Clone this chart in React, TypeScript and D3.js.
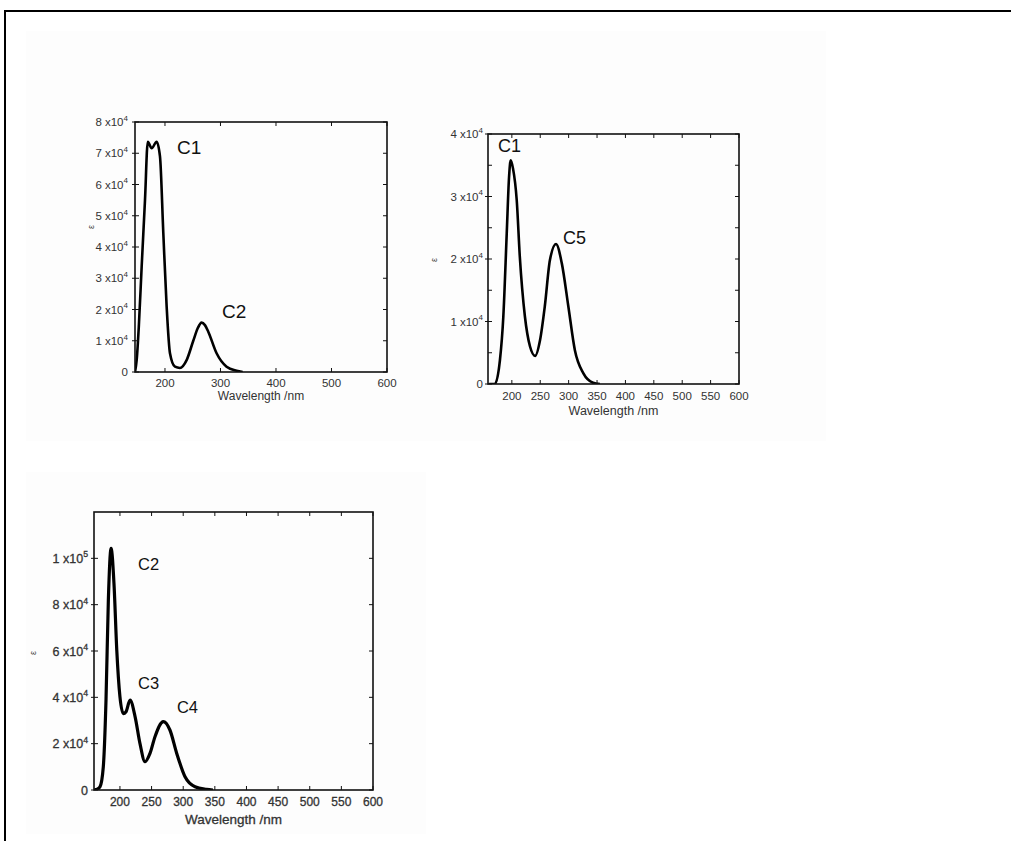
import React from 'react';
import * as d3 from 'd3';

// ---------- Data ----------
// Panel 1: peaks C1 (double) and C2
const p1Wavelength = [146, 149, 153, 158, 164, 169, 176, 185, 191, 197, 203, 209, 218, 227, 239, 251, 259, 266, 272, 278, 293, 311, 329, 340];
const p1Epsilon = [0, 3800, 15000, 33700, 55000, 73700, 71600, 73700, 69000, 44500, 21000, 6000, 1700, 1300, 3800, 10000, 14000, 15800, 15000, 12900, 6000, 1700, 400, 0];

// Panel 2: peaks C1 and C5
const p2Wavelength = [160, 170, 179, 185, 191, 195, 198, 202, 208.6, 214, 223, 232, 241, 249.6, 258, 267, 277.8, 288, 299.5, 311, 326, 343, 355];
const p2Epsilon = [0, 0, 3800, 10800, 24100, 33000, 35800, 34500, 29400, 20400, 10800, 6000, 4500, 7000, 12400, 19800, 22400, 19300, 12400, 5400, 1700, 200, 0];

// Panel 3: peaks C2, C3, C4
const p3Wavelength = [159, 164, 168.5, 173.7, 178, 181.7, 186, 190.6, 195, 200, 205.3, 209.6, 216, 224, 231.7, 239.6, 247.5, 255.4, 268.6, 279, 289.8, 302.9, 318.7, 337, 347];
const p3Epsilon = [0, 300, 1400, 10000, 39000, 82000, 104300, 89000, 60400, 40300, 33000, 33800, 38800, 31600, 20000, 12200, 15800, 23000, 29500, 25900, 15800, 5700, 1400, 300, 0];

const p1XTicks = [200, 300, 400, 500, 600];
const p1YTicks = [0, 10000, 20000, 30000, 40000, 50000, 60000, 70000, 80000];
const p2XTicks = [200, 250, 300, 350, 400, 450, 500, 550, 600];
const p2YTicks = [0, 10000, 20000, 30000, 40000];
const p2YMinor = [5000, 15000, 25000, 35000];
const p3XTicks = [200, 250, 300, 350, 400, 450, 500, 550, 600];
const p3YTicks = [0, 20000, 40000, 60000, 80000, 100000];

const p1Labels = [{ text: 'C1', wl: 221.7, eps: 72000 }, { text: 'C2', wl: 302.8, eps: 19500 }];
const p2Labels = [{ text: 'C1', wl: 175.6, eps: 38100 }, { text: 'C5', wl: 290, eps: 23400 }];
const p3Labels = [
  { text: 'C2', wl: 228.6, eps: 97500 },
  { text: 'C3', wl: 228.6, eps: 46200 },
  { text: 'C4', wl: 290, eps: 35800 },
];

const xTitle = 'Wavelength /nm';
const yTitle = 'ε';

// ---------- Panel layout ----------
type Cfg = {
  wl: number[]; eps: number[];
  x0: number; x1: number; y0: number; y1: number;
  xDomain: [number, number]; yDomain: [number, number];
  xTicks: number[]; yTicks: number[]; yMinor?: number[];
  labels: { text: string; wl: number; eps: number }[];
  labelSize: number; tickSize: number; yTickSize: number; titleSize: number;
  xTickDy: number; titleDy: number; yLabelGap: number;
  epsX: number; epsY: number; tickLen: number; weight: number; lineW: number;
};

const panels: Cfg[] = [
  {
    wl: p1Wavelength, eps: p1Epsilon,
    x0: 135, x1: 387, y0: 122, y1: 372,
    xDomain: [146, 600], yDomain: [0, 80000],
    xTicks: p1XTicks, yTicks: p1YTicks,
    labels: p1Labels, labelSize: 19, tickSize: 11.5, yTickSize: 11.5, titleSize: 12,
    xTickDy: 15, titleDy: 28, yLabelGap: 7, epsX: 91, epsY: 227, tickLen: 4, weight: 0, lineW: 2.6,
  },
  {
    wl: p2Wavelength, eps: p2Epsilon,
    x0: 488, x1: 739, y0: 134, y1: 384,
    xDomain: [158, 600], yDomain: [0, 40000],
    xTicks: p2XTicks, yTicks: p2YTicks, yMinor: p2YMinor,
    labels: p2Labels, labelSize: 18, tickSize: 11.5, yTickSize: 11.5, titleSize: 12.5,
    xTickDy: 15.5, titleDy: 31, yLabelGap: 5, epsX: 434, epsY: 260, tickLen: 4, weight: 0, lineW: 2.6,
  },
  {
    wl: p3Wavelength, eps: p3Epsilon,
    x0: 94, x1: 373, y0: 512, y1: 790,
    xDomain: [159, 600], yDomain: [0, 120000],
    xTicks: p3XTicks, yTicks: p3YTicks,
    labels: p3Labels, labelSize: 16.5, tickSize: 12, yTickSize: 12.5, titleSize: 13.5,
    xTickDy: 16, titleDy: 34, yLabelGap: 6, epsX: 33, epsY: 653, tickLen: 4, weight: 0.3, lineW: 3.2,
  },
];

const FONT = '"Liberation Sans", Arial, Helvetica, sans-serif';

function YTickLabel({ v, x, y, size, weight }: { v: number; x: number; y: number; size: number; weight: number }) {
  const stroke = weight ? '#333' : 'none';
  if (v === 0) {
    return (
      <text x={x} y={y + size * 0.36} textAnchor="end" fontSize={size} fill="#333" stroke={stroke} strokeWidth={weight}>0</text>
    );
  }
  const exp = Math.floor(Math.log10(v) + 1e-9);
  const m = Math.round(v / Math.pow(10, exp));
  return (
    <text x={x} y={y + size * 0.36} textAnchor="end" fontSize={size} fill="#333" stroke={stroke} strokeWidth={weight}>
      {`${m} x10`}
      <tspan fontSize={size * 0.7} dy={-size * 0.45}>{exp}</tspan>
    </text>
  );
}

function Panel({ c }: { c: Cfg }) {
  const x = d3.scaleLinear().domain(c.xDomain).range([c.x0, c.x1]);
  const y = d3.scaleLinear().domain(c.yDomain).range([c.y1, c.y0]);
  const pts = c.wl.map((w, i) => [w, c.eps[i]] as [number, number]);
  const line = d3.line<[number, number]>()
    .x(d => x(d[0]))
    .y(d => y(d[1]))
    .curve(d3.curveMonotoneX);
  const t = c.tickLen;
  const stroke = c.weight ? '#333' : 'none';
  return (
    <g fontFamily={FONT}>
      <defs>
        <clipPath id={`clip-${c.x0}`}>
          <rect x={c.x0} y={c.y0 - 20} width={c.x1 - c.x0} height={c.y1 - c.y0 + 20} />
        </clipPath>
      </defs>
      <path d={line(pts) || ''} fill="none" stroke="#000" strokeWidth={c.lineW} strokeLinejoin="round" clipPath={`url(#clip-${c.x0})`} />
      <rect x={c.x0} y={c.y0} width={c.x1 - c.x0} height={c.y1 - c.y0} fill="none" stroke="#111" strokeWidth={1.6} />
      {c.xTicks.map(v => (
        <g key={`xt${v}`}>
          <line x1={x(v)} x2={x(v)} y1={c.y1} y2={c.y1 - t} stroke="#111" strokeWidth={1} />
          <line x1={x(v)} x2={x(v)} y1={c.y0} y2={c.y0 + t} stroke="#111" strokeWidth={1} />
          <text x={x(v)} y={c.y1 + c.xTickDy} textAnchor="middle" fontSize={c.tickSize} fill="#333" stroke={stroke} strokeWidth={c.weight}>{v}</text>
        </g>
      ))}
      {c.yTicks.map(v => (
        <g key={`yt${v}`}>
          <line x1={c.x0} x2={c.x0 + t} y1={y(v)} y2={y(v)} stroke="#111" strokeWidth={1} />
          <line x1={c.x0 - 3} x2={c.x0} y1={y(v)} y2={y(v)} stroke="#111" strokeWidth={1} />
          <line x1={c.x1} x2={c.x1 - t} y1={y(v)} y2={y(v)} stroke="#111" strokeWidth={1} />
          <YTickLabel v={v} x={c.x0 - c.yLabelGap} y={y(v)} size={c.yTickSize} weight={c.weight} />
        </g>
      ))}
      {(c.yMinor || []).map(v => (
        <g key={`ym${v}`}>
          <line x1={c.x0} x2={c.x0 + t} y1={y(v)} y2={y(v)} stroke="#111" strokeWidth={1} />
          <line x1={c.x1} x2={c.x1 - t} y1={y(v)} y2={y(v)} stroke="#111" strokeWidth={1} />
        </g>
      ))}
      <text x={(c.x0 + c.x1) / 2} y={c.y1 + c.titleDy} textAnchor="middle" fontSize={c.titleSize} fill="#333" stroke={stroke} strokeWidth={c.weight}>{xTitle}</text>
      <text transform={`translate(${c.epsX},${c.epsY}) rotate(-90)`} textAnchor="middle" dominantBaseline="central" fontSize={9} fill="#333">{yTitle}</text>
      {c.labels.map(l => (
        <text key={l.text + l.eps} x={x(l.wl)} y={y(l.eps)} dominantBaseline="central" fontSize={c.labelSize} fill="#111">{l.text}</text>
      ))}
    </g>
  );
}

export default function App() {
  return (
    <div style={{ position: 'absolute', left: 0, top: 0, width: 1011, height: 841, background: '#fff' }}>
      <svg width={1011} height={841} viewBox="0 0 1011 841" style={{ display: 'block' }}>
        <rect x={0} y={0} width={1011} height={841} fill="#fff" />
        <rect x={26} y={31} width={800} height={410} fill="#fdfdfd" />
        <rect x={26} y={472} width={400} height={362} fill="#fdfdfd" />
        <line x1={5} y1={11} x2={1011} y2={11} stroke="#000" strokeWidth={2} />
        <line x1={5} y1={10} x2={5} y2={841} stroke="#000" strokeWidth={2} />
        {panels.map((c, i) => <Panel key={i} c={c} />)}
      </svg>
    </div>
  );
}
